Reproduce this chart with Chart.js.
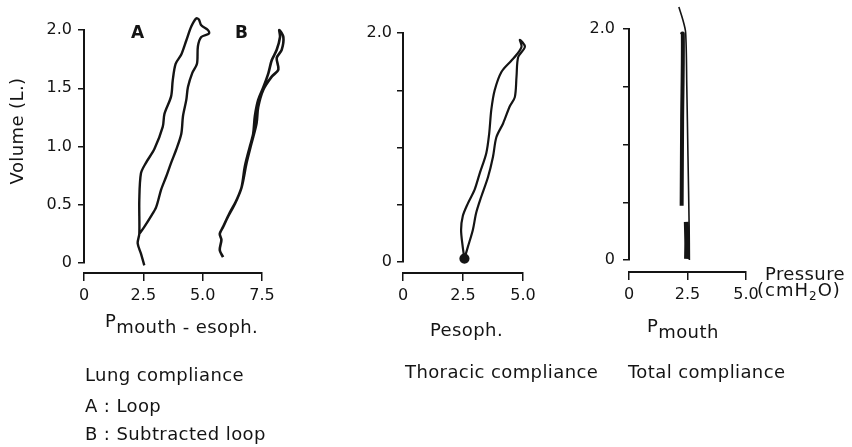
<!DOCTYPE html>
<html>
<head>
<meta charset="utf-8">
<script src="https://cdn.jsdelivr.net/npm/chart.js@4.4.1/dist/chart.umd.min.js"></script>
<style>
  body { margin: 0; background: #fff; }
  #wrap { position: relative; width: 852px; height: 447px; overflow: hidden;
          font-family: "DejaVu Sans", sans-serif; color: #141414; }
  canvas { position: absolute; left: 0; top: 0; }
  .t { position: absolute; font-size: 18px; line-height: 18px; white-space: nowrap; letter-spacing: 0.4px; }
  .raised { position: relative; top: -6px; margin-right: 0px; }
  .tag { font-weight: bold; font-size: 17px; }
</style>
</head>
<body>
<div id="wrap">
  <canvas id="lung" width="852" height="447"></canvas>
  <canvas id="thoracic" width="852" height="447"></canvas>
  <canvas id="total" width="852" height="447"></canvas>

  <div class="t tag" style="left:131px; top:23px;">A</div>
  <div class="t tag" style="left:235px; top:23px;">B</div>
  <div class="t" style="left:-41px; top:122px; transform:rotate(-90deg); width:116px; text-align:center;">Volume (L.)</div>

  <div class="t" style="left:765px; top:265px;">Pressure</div>
  <div class="t" style="left:757px; top:281px; letter-spacing:1px;">(cmH<sub style="font-size:12px; vertical-align:-4px;">2</sub>O)</div>

  <div class="t" style="left:105px; top:318px;"><span class="raised">P</span>mouth - esoph.</div>
  <div class="t" style="left:430px; top:321px;">Pesoph.</div>
  <div class="t" style="left:647px; top:323px;"><span class="raised">P</span>mouth</div>

  <div class="t" style="left:85px; top:366px;">Lung compliance</div>
  <div class="t" style="left:405px; top:363px;">Thoracic compliance</div>
  <div class="t" style="left:628px; top:363px;">Total compliance</div>
  <div class="t" style="left:85px; top:397px;">A : Loop</div>
  <div class="t" style="left:85px; top:425px;">B : Subtracted loop</div>
</div>

<script>
// Lung compliance, A: loop (pressure cmH2O, volume L)
const loopAPressure = [2.54, 2.40, 2.26, 2.33, 2.33, 2.40, 2.61, 2.97, 3.32, 3.39, 3.67, 3.74, 3.86, 4.10, 4.31, 4.52, 4.73, 4.84,
                       4.94, 5.22, 5.27, 4.94, 4.80, 4.76, 4.56, 4.38, 4.31, 4.17, 4.10, 3.88, 3.67, 3.46, 3.25, 3.04, 2.82, 2.54, 2.33];
const loopAVolume = [-0.02, 0.08, 0.17, 0.25, 0.54, 0.77, 0.86, 0.98, 1.17, 1.28, 1.43, 1.57, 1.71, 1.79, 1.91, 2.03, 2.10, 2.09,
                     2.04, 2.00, 1.97, 1.94, 1.86, 1.71, 1.63, 1.51, 1.40, 1.26, 1.11, 0.97, 0.86, 0.74, 0.63, 0.48, 0.40, 0.31, 0.25];

// Lung compliance, B: subtracted loop
const loopBPressure = [5.86, 5.72, 5.79, 5.72, 5.86, 6.14, 6.43, 6.64, 6.78, 6.99, 7.13, 7.20, 7.34, 7.56, 7.77, 7.91, 8.12, 8.26, 8.23,
                       8.40, 8.33, 8.12, 8.19, 7.91, 7.56, 7.34, 7.27, 7.06, 6.85, 6.64, 6.36, 6.07, 5.86];
const loopBVolume = [0.05, 0.11, 0.20, 0.25, 0.31, 0.43, 0.54, 0.65, 0.83, 1.00, 1.11, 1.26, 1.40, 1.51, 1.63, 1.74, 1.83, 1.94, 2.00,
                     1.94, 1.83, 1.76, 1.66, 1.60, 1.49, 1.34, 1.20, 1.03, 0.86, 0.65, 0.51, 0.40, 0.31];

// Thoracic compliance (Pesoph.)
const thoracicPressure = [2.56, 2.49, 2.42, 2.49, 2.70, 2.98, 3.19, 3.47, 3.59, 3.68, 3.82, 4.10, 4.52, 4.73, 4.94, 4.87,
                          5.08, 4.80, 4.73, 4.66, 4.45, 4.17, 3.89, 3.75, 3.54, 3.26, 3.05, 2.91, 2.70, 2.56];
const thoracicVolume = [0.03, 0.13, 0.28, 0.40, 0.51, 0.63, 0.77, 0.95, 1.12, 1.33, 1.50, 1.66, 1.76, 1.81, 1.88, 1.94,
                        1.88, 1.79, 1.62, 1.44, 1.36, 1.21, 1.09, 0.92, 0.74, 0.57, 0.43, 0.28, 0.13, 0.03];

// Total compliance (Pmouth): thin trace plus two heavy strokes
const totalThinPressure = [2.13, 2.30, 2.42, 2.47, 2.52, 2.57, 2.58];
const totalThinVolume = [2.19, 2.08, 1.97, 1.50, 0.90, 0.30, 0.00];
const totalUpperPressure = [2.22, 2.30, 2.27, 2.25];
const totalUpperVolume = [1.95, 1.96, 1.20, 0.47];
const totalLowerPressure = [2.45, 2.47, 2.46];
const totalLowerVolume = [0.33, 0.15, 0.01];

// axes
const lungXTicks = [0, 2.5, 5.0, 7.5];
const lungXLabels = ['0', '2.5', '5.0', '7.5'];
const pressureXTicks = [0, 2.5, 5.0];
const pressureXLabels = ['0', '2.5', '5.0'];
const volumeTicks = [0, 0.5, 1.0, 1.5, 2.0];
const lungYLabels = ['0', '0.5', '1.0', '1.5', '2.0'];
const sparseYLabels = ['0', '', '', '', '2.0'];

const ink = '#141414';
const tickFont = { family: 'DejaVu Sans', size: 16 };
const yBoxWidth = 40;

function pts(xs, ys) {
    return xs.map((x, i) => ({ x: x, y: ys[i] }));
}

function trace(xs, ys, width, extra) {
    return Object.assign({
        data: pts(xs, ys),
        showLine: true,
        borderColor: ink,
        backgroundColor: ink,
        borderWidth: width,
        pointRadius: 0,
        tension: 0.3,
        clip: false
    }, extra || {});
}

function panel(id, cfg) {
    return new Chart(document.getElementById(id), {
        type: 'scatter',
        data: { datasets: cfg.datasets },
        options: {
            responsive: false,
            animation: false,
            layout: { padding: { left: cfg.left - yBoxWidth, right: 852 - cfg.right, top: cfg.top, bottom: 447 - cfg.bottom } },
            plugins: { legend: { display: false }, tooltip: { enabled: false } },
            scales: {
                x: {
                    axis: 'x',
                    type: 'linear',
                    min: 0,
                    max: cfg.xMax,
                    // detached x axis, a little below volume 0
                    position: { y: cfg.xAxisAt },
                    afterBuildTicks: s => { s.ticks = cfg.xTicks.map(v => ({ value: v })); },
                    ticks: { callback: (v, i) => cfg.xLabels[i], font: tickFont, color: ink, padding: 6, maxRotation: 0, autoSkip: false },
                    grid: { drawOnChartArea: false, tickLength: 7, color: ink, lineWidth: 1.5 },
                    border: { display: true, color: ink, width: 2 }
                },
                y: {
                    type: 'linear',
                    position: 'left',
                    min: 0,
                    max: 2,
                    afterFit: s => { s.width = yBoxWidth; },
                    afterBuildTicks: s => { s.ticks = volumeTicks.map(v => ({ value: v })); },
                    ticks: { callback: (v, i) => cfg.yLabels[i], font: tickFont, color: ink, padding: cfg.yPad, autoSkip: false },
                    grid: { drawOnChartArea: false, tickLength: 6, color: ink, lineWidth: 1.5 },
                    border: { display: true, color: ink, width: 2 }
                }
            }
        }
    });
}

panel('lung', {
    left: 84, right: 262, top: 30, bottom: 263,
    xMax: 7.5, xAxisAt: -0.086, yPad: 6,
    xTicks: lungXTicks, xLabels: lungXLabels, yLabels: lungYLabels,
    datasets: [
        trace(loopAPressure, loopAVolume, 2.4),
        trace(loopBPressure, loopBVolume, 2.6)
    ]
});

panel('thoracic', {
    left: 403, right: 523, top: 33, bottom: 262,
    xMax: 5, xAxisAt: -0.096, yPad: 5,
    xTicks: pressureXTicks, xLabels: pressureXLabels, yLabels: sparseYLabels,
    datasets: [
        trace(thoracicPressure, thoracicVolume, 2.2, { pointRadius: c => c.dataIndex === 0 ? 4 : 0 })
    ]
});

panel('total', {
    left: 629, right: 746, top: 29, bottom: 260,
    xMax: 5, xAxisAt: -0.104, yPad: 8,
    xTicks: pressureXTicks, xLabels: pressureXLabels, yLabels: sparseYLabels,
    datasets: [
        trace(totalThinPressure, totalThinVolume, 1.6),
        trace(totalUpperPressure, totalUpperVolume, 4),
        trace(totalLowerPressure, totalLowerVolume, 5)
    ]
});
</script>
</body>
</html>
